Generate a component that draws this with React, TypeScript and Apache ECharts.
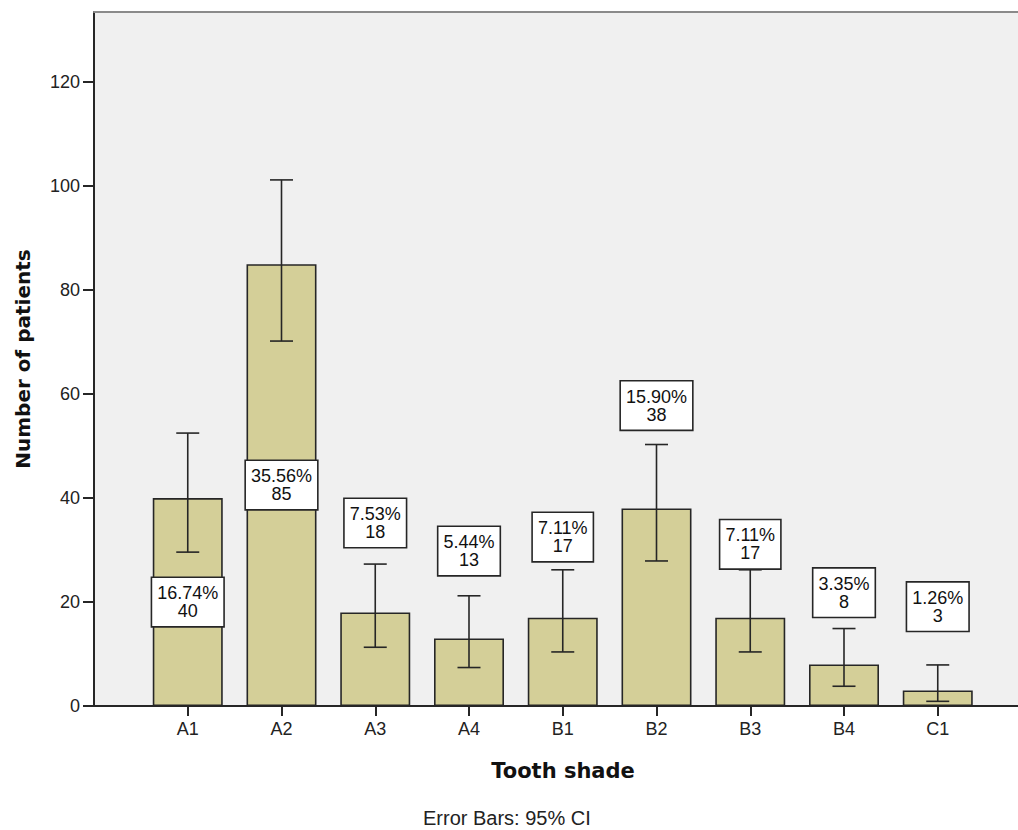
import React, { useEffect, useRef } from "react";
import * as echarts from "echarts";

const categories = ["A1", "A2", "A3", "A4", "B1", "B2", "B3", "B4", "C1"];
const counts = [40, 85, 18, 13, 17, 38, 17, 8, 3];
const percents = ["16.74%", "35.56%", "7.53%", "5.44%", "7.11%", "15.90%", "7.11%", "3.35%", "1.26%"];
const ciLower = [29.6, 70.2, 11.3, 7.4, 10.4, 27.9, 10.4, 3.8, 0.9];
const ciUpper = [52.5, 101.2, 27.3, 21.2, 26.2, 50.3, 26.2, 14.9, 7.9];
const labelAt = [20, 42.5, 35.2, 29.8, 32.5, 57.8, 31.1, 21.8, 19.1];
const yTicks = [0, 20, 40, 60, 80, 100, 120];
const xTicks = categories.map((_, i) => i + 1);

const FONT = "'Liberation Sans', Arial, sans-serif";
const BOLD_FONT = "'DejaVu Sans', Verdana, sans-serif";
const DARK = "#262626";
const X_MAX = 9.856; // plot is cut at the right edge of the picture

export default function App() {
  const ref = useRef<HTMLDivElement>(null);

  useEffect(() => {
    document.body.style.margin = "0";
    const chart = echarts.init(ref.current!, undefined, { renderer: "svg" });
    const option: any = {
      animation: false,
      backgroundColor: "#ffffff",
      grid: {
        left: 94,
        right: 0,
        top: 12,
        bottom: 124,
        show: true,
        backgroundColor: "#f0f0f0",
        borderWidth: 0,
      },
      xAxis: [
        {
          type: "value",
          min: 0,
          max: X_MAX,
          interval: 1,
          splitLine: { show: false },
          axisLine: { show: true, lineStyle: { color: DARK, width: 2 } },
          axisTick: {
            show: true,
            length: 10,
            customValues: xTicks,
            lineStyle: { color: DARK, width: 2 },
          },
          axisLabel: {
            customValues: xTicks,
            formatter: (v: number) => categories[Math.round(v) - 1] ?? "",
            fontSize: 18,
            fontFamily: FONT,
            color: "#222",
            margin: 14,
          },
          name: "Tooth shade",
          nameLocation: "middle",
          nameGap: 54,
          nameTextStyle: {
            fontFamily: BOLD_FONT,
            fontWeight: "bold",
            fontSize: 21,
            color: "#111",
            padding: [0, 0, 0, 14],
          },
        },
        {
          type: "value",
          position: "top",
          min: 0,
          max: X_MAX,
          splitLine: { show: false },
          axisLine: { show: true, lineStyle: { color: "#8a8a8a", width: 2 } },
          axisTick: { show: false },
          axisLabel: { show: false },
        },
      ],
      yAxis: {
        type: "value",
        min: 0,
        max: 133.5,
        interval: 20,
        splitLine: { show: false },
        axisLine: { show: true, lineStyle: { color: DARK, width: 2 } },
        axisTick: {
          show: true,
          length: 11,
          customValues: yTicks,
          lineStyle: { color: DARK, width: 2 },
        },
        axisLabel: {
          customValues: yTicks,
          fontSize: 18,
          fontFamily: FONT,
          color: "#222",
          margin: 14,
        },
        name: "Number of patients",
        nameLocation: "middle",
        nameGap: 61,
        nameRotate: 90,
        nameTextStyle: {
          fontFamily: BOLD_FONT,
          fontWeight: "bold",
          fontSize: 20,
          color: "#111",
        },
      },
      series: [
        {
          type: "bar",
          xAxisIndex: 0,
          barWidth: 70,
          data: counts.map((c, i) => [i + 1, c]),
          itemStyle: { color: "#d4cf98", borderColor: DARK, borderWidth: 1.6 },
          z: 2,
        },
        {
          type: "custom",
          xAxisIndex: 0,
          data: categories.map((_, i) => [i + 1, ciLower[i], ciUpper[i]]),
          encode: { x: 0, y: [1, 2] },
          z: 3,
          renderItem: (params: any, api: any) => {
            const x = api.value(0);
            const top = api.coord([x, api.value(2)]);
            const bot = api.coord([x, api.value(1)]);
            const half = 11.5;
            const st = { stroke: DARK, lineWidth: 1.6 };
            return {
              type: "group",
              children: [
                { type: "line", shape: { x1: top[0], y1: top[1], x2: bot[0], y2: bot[1] }, style: st },
                { type: "line", shape: { x1: top[0] - half, y1: top[1], x2: top[0] + half, y2: top[1] }, style: st },
                { type: "line", shape: { x1: bot[0] - half, y1: bot[1], x2: bot[0] + half, y2: bot[1] }, style: st },
              ],
            };
          },
        },
        {
          type: "custom",
          xAxisIndex: 0,
          data: categories.map((_, i) => [i + 1, labelAt[i]]),
          encode: { x: 0, y: 1 },
          z: 4,
          renderItem: (params: any, api: any) => {
            const i = params.dataIndex;
            const p = api.coord([api.value(0), api.value(1)]);
            return {
              type: "text",
              x: p[0],
              y: p[1],
              style: {
                text: percents[i] + "\n" + counts[i],
                x: 0,
                y: 0,
                align: "center",
                verticalAlign: "middle",
                fontSize: 18,
                fontFamily: FONT,
                lineHeight: 18,
                fill: "#111",
                backgroundColor: "#ffffff",
                borderColor: DARK,
                borderWidth: 1.6,
                padding: [6, 5, 6, 5],
              },
            };
          },
        },
      ],
      graphic: [
        {
          type: "text",
          left: 423,
          top: 808,
          style: {
            text: "Error Bars: 95% CI",
            fontSize: 20,
            fontFamily: FONT,
            fill: "#222",
          },
        },
      ],
    };
    chart.setOption(option);
    return () => chart.dispose();
  }, []);

  return (
    <div
      ref={ref}
      style={{ position: "absolute", left: 0, top: 0, width: 1018, height: 830 }}
    />
  );
}
